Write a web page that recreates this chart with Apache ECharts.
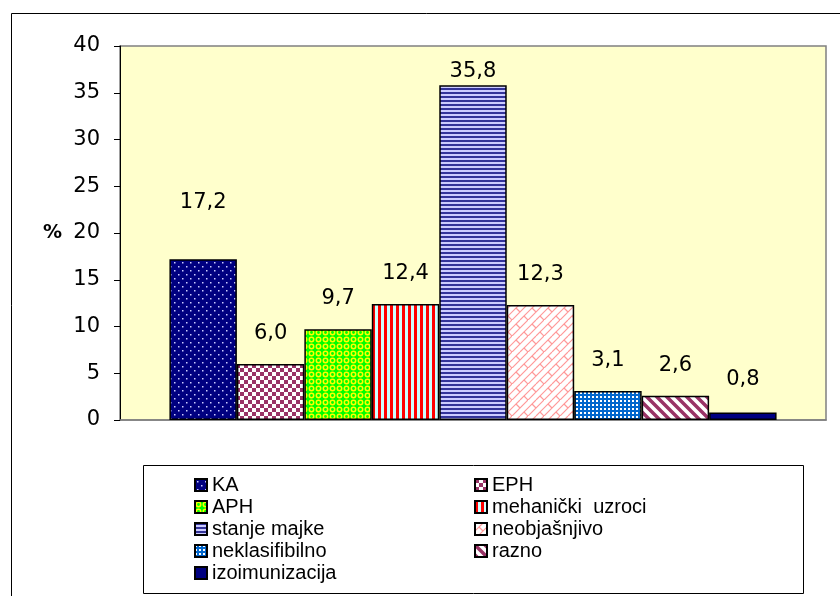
<!DOCTYPE html>
<html lang="hr">
<head>
    <meta charset="UTF-8">
    <title>Uzroci</title>
    <script src="https://cdn.jsdelivr.net/npm/echarts@6.0.0/dist/echarts.min.js"></script>
    <style>
        html, body { margin: 0; padding: 0; background: #fff; }
        #chart { width: 840px; height: 596px; }
    </style>
</head>
<body>
    <div id="chart"></div>
    <script>
        // podaci
        const categories = ['KA', 'EPH', 'APH', 'mehanički  uzroci', 'stanje majke', 'neobjašnjivo', 'neklasifibilno', 'razno', 'izoimunizacija'];
        const values = [17.2, 6.0, 9.7, 12.4, 35.8, 12.3, 3.1, 2.6, 0.8];
        const yTicks = [0, 5, 10, 15, 20, 25, 30, 35, 40];

        // uzorci za stupce
        function tile(w, h, draw) {
            const c = document.createElement('canvas');
            c.width = w; c.height = h;
            draw(c.getContext('2d'), w, h);
            return { image: c, repeat: 'repeat' };
        }
        const patterns = [
            tile(8, 8, (g) => {
                g.fillStyle = '#000080'; g.fillRect(0, 0, 8, 8);
                g.fillStyle = '#ccccff'; g.fillRect(2, 2, 1.5, 1.5); g.fillRect(6, 6, 1.5, 1.5);
            }),
            tile(8, 8, (g) => {
                g.fillStyle = '#fff'; g.fillRect(0, 0, 8, 8);
                g.fillStyle = '#993366'; g.fillRect(0, 0, 4, 4); g.fillRect(4, 4, 4, 4);
            }),
            tile(7, 7, (g) => {
                g.fillStyle = '#00ff00'; g.fillRect(0, 0, 7, 7);
                g.strokeStyle = '#ffff00'; g.lineWidth = 1.5;
                g.beginPath(); g.arc(3.5, 3.5, 2.2, 0, Math.PI * 2); g.stroke();
            }),
            tile(6, 6, (g) => {
                g.fillStyle = '#ccffff'; g.fillRect(0, 0, 6, 6);
                g.fillStyle = '#ff0000'; g.fillRect(0, 0, 3, 6);
            }),
            tile(4, 4, (g) => {
                g.fillStyle = '#ccccff'; g.fillRect(0, 0, 4, 4);
                g.fillStyle = '#333399'; g.fillRect(0, 0, 4, 2);
            }),
            tile(16, 16, (g) => {
                g.fillStyle = '#fff'; g.fillRect(0, 0, 16, 16);
                g.strokeStyle = '#ff9999'; g.lineWidth = 1.2;
                g.beginPath();
                g.moveTo(0, 16); g.lineTo(16, 0);
                g.moveTo(-8, 16); g.lineTo(8, 0);
                g.moveTo(8, 16); g.lineTo(24, 0);
                g.moveTo(4, 4); g.lineTo(8, 8);
                g.moveTo(12, 12); g.lineTo(16, 16);
                g.stroke();
            }),
            tile(4, 4, (g) => {
                g.fillStyle = '#0066cc'; g.fillRect(0, 0, 4, 4);
                g.fillStyle = '#fff'; g.fillRect(0, 0, 2, 2);
            }),
            tile(10, 10, (g) => {
                g.fillStyle = '#fff'; g.fillRect(0, 0, 10, 10);
                g.strokeStyle = '#993366'; g.lineWidth = 3.5;
                g.beginPath();
                g.moveTo(-2, -2); g.lineTo(12, 12);
                g.moveTo(-12, -2); g.lineTo(2, 12);
                g.moveTo(8, -2); g.lineTo(22, 12);
                g.stroke();
            }),
            '#000080'
        ];
        const labelDist = [46, 20, 20, 20, 3, 20, 20, 20, 22];

        const chart = echarts.init(document.getElementById('chart'));
        const numFont = '"DejaVu Sans", sans-serif';
        const font = '"Liberation Sans", Arial, sans-serif';

        const series = categories.map((name, i) => ({
            name: name,
            type: 'bar',
            data: [values[i]],
            barGap: 0,
            barCategoryGap: '14%',
            itemStyle: { color: patterns[i], borderColor: '#000', borderWidth: 1.5 },
            label: {
                show: true,
                position: 'top',
                distance: labelDist[i],
                fontFamily: numFont,
                fontSize: 21,
                color: '#000',
                formatter: (p) => p.value.toFixed(1).replace('.', ',')
            }
        }));

        const legendText = { fontFamily: font, fontSize: 20, color: '#000', lineHeight: 20 };
        const option = {
            animation: false,
            backgroundColor: '#fff',
            grid: { left: 120, top: 46, right: 14, bottom: 176, show: true, backgroundColor: '#ffffcc', borderColor: '#808080', borderWidth: 1.5 },
            xAxis: {
                type: 'category',
                data: [''],
                axisLine: { lineStyle: { color: '#808080', width: 1.5 } },
                axisTick: { show: false },
                axisLabel: { show: false }
            },
            yAxis: {
                type: 'value',
                min: yTicks[0],
                max: yTicks[yTicks.length - 1],
                interval: 5,
                name: '%',
                nameLocation: 'middle',
                nameRotate: 0,
                nameGap: 58,
                nameTextStyle: { fontFamily: numFont, fontSize: 19, fontWeight: 'bold', color: '#000' },
                axisLine: { show: true, lineStyle: { color: '#000', width: 1 } },
                axisTick: { show: true, length: 6, lineStyle: { color: '#000' } },
                axisLabel: { fontFamily: numFont, fontSize: 21, color: '#000', margin: 20 },
                splitLine: { show: false }
            },
            legend: [
                {
                    orient: 'vertical', left: 189, top: 470,
                    itemWidth: 12, itemHeight: 12, itemGap: 2,
                    icon: 'rect',
                    data: [categories[0], categories[2], categories[4], categories[6], categories[8]],
                    textStyle: legendText
                },
                {
                    orient: 'vertical', left: 469, top: 470,
                    itemWidth: 12, itemHeight: 12, itemGap: 2,
                    icon: 'rect',
                    data: [categories[1], categories[3], categories[5], categories[7]],
                    textStyle: legendText
                }
            ],
            graphic: [
                { type: 'rect', left: 9, top: 11, shape: { width: 850, height: 600 }, style: { fill: 'none', stroke: '#000', lineWidth: 1 }, z: -1 },
                { type: 'rect', left: 143, top: 465, shape: { width: 660, height: 128 }, style: { fill: '#fff', stroke: '#000', lineWidth: 1 }, z: 0 }
            ],
            series: series
        };
        chart.setOption(option);
    </script>
</body>
</html>
